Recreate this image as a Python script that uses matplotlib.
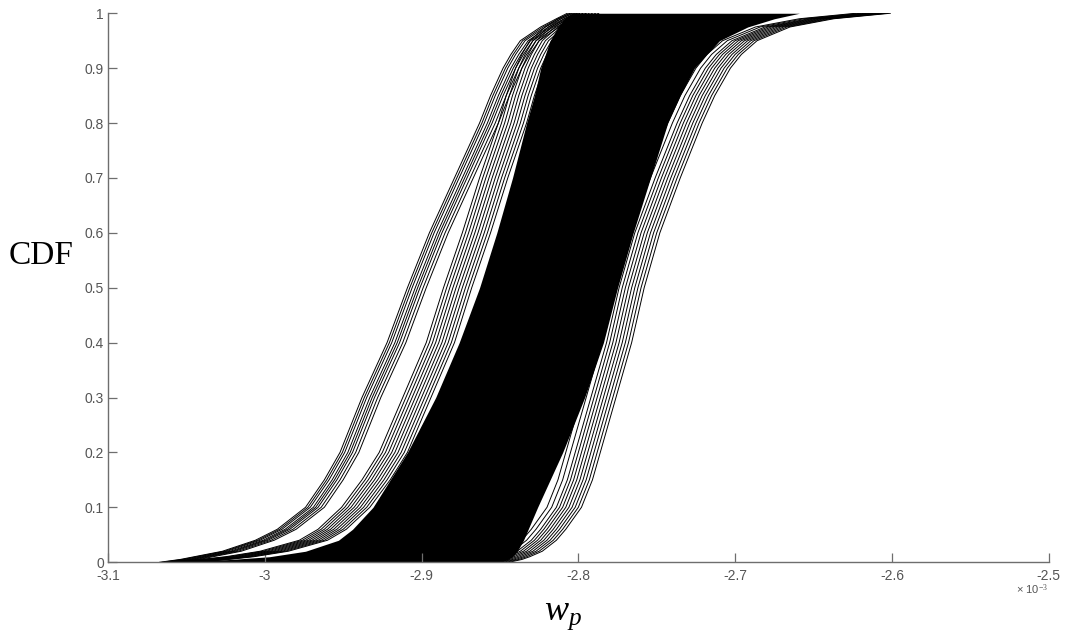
import numpy as np
import matplotlib
matplotlib.use("Agg")
import matplotlib.pyplot as plt

cdf_levels = [0, 0.005, 0.01, 0.02, 0.04, 0.06, 0.1, 0.15, 0.2, 0.3, 0.4, 0.5,
              0.6, 0.7, 0.8, 0.85, 0.9, 0.925, 0.95, 0.975, 0.99, 1.0]

# leftmost curve of the left bundle and the offsets of its members
left_curve = [-3.067, -3.054, -3.045, -3.027, -3.006, -2.992, -2.974, -2.962, -2.952, -2.938, -2.922,
              -2.909, -2.895, -2.879, -2.863, -2.856, -2.848, -2.843, -2.837, -2.824, -2.814, -2.807]
left_shifts = [0.0, 0.0015, 0.003, 0.005, 0.0065, 0.008, 0.010, 0.012]

# leftmost curve of the bundle hugging the dense band
mid_curve = [-3.060, -3.041, -3.025, -3.003, -2.978, -2.966, -2.951, -2.938, -2.927, -2.912, -2.897,
             -2.886, -2.874, -2.863, -2.851, -2.846, -2.840, -2.836, -2.831, -2.821, -2.813, -2.805]
mid_shifts = [0.0, 0.002, 0.004, 0.006, 0.008, 0.010, 0.012, 0.014, 0.016, 0.018]

# edges of the solid black region (hundreds of overlapping curves)
band_left = [-3.057, -3.022, -2.997, -2.974, -2.953, -2.944, -2.931, -2.920, -2.909, -2.891, -2.876,
             -2.863, -2.852, -2.842, -2.833, -2.828, -2.824, -2.821, -2.818, -2.813, -2.809, -2.804]
band_right = [-2.850, -2.845, -2.842, -2.839, -2.835, -2.832, -2.826, -2.818, -2.810, -2.796, -2.784,
              -2.775, -2.765, -2.754, -2.743, -2.735, -2.726, -2.718, -2.710, -2.692, -2.675, -2.659]

# rightmost curve and offsets of the right bundle
right_curve = [-2.844, -2.836, -2.831, -2.823, -2.814, -2.808, -2.798, -2.791, -2.786, -2.776, -2.766,
               -2.758, -2.748, -2.735, -2.721, -2.713, -2.703, -2.696, -2.686, -2.665, -2.637, -2.601]
right_shifts = [0.0, -0.002, -0.004, -0.006, -0.008, -0.010, -0.012, -0.014, -0.016, -0.019, -0.022]

x_ticks = [-3.1, -3.0, -2.9, -2.8, -2.7, -2.6, -2.5]
x_tick_labels = ["-3.1", "-3", "-2.9", "-2.8", "-2.7", "-2.6", "-2.5"]
y_ticks = [0, 0.1, 0.2, 0.3, 0.4, 0.5, 0.6, 0.7, 0.8, 0.9, 1.0]
y_tick_labels = ["0", "0.1", "0.2", "0.3", "0.4", "0.5", "0.6", "0.7", "0.8", "0.9", "1"]

plt.rcParams["mathtext.fontset"] = "custom"
plt.rcParams["mathtext.rm"] = "Liberation Serif"
plt.rcParams["mathtext.it"] = "Liberation Serif:italic"

fig = plt.figure(figsize=(10.69, 6.31), dpi=100)
ax = fig.add_axes([0.101, 0.109, 0.880, 0.870])

levels = np.array(cdf_levels)

# dense band
ax.fill_betweenx(levels, band_left, band_right, color="black", linewidth=0)

# individual curves
for base, shifts in [(left_curve, left_shifts), (mid_curve, mid_shifts), (right_curve, right_shifts)]:
    for s in shifts:
        ax.plot(np.array(base) + s, levels, color="black", linewidth=0.7)

ax.set_xlim(-3.1, -2.5)
ax.set_ylim(0, 1)
ax.set_xticks(x_ticks)
ax.set_xticklabels(x_tick_labels)
ax.set_yticks(y_ticks)
ax.set_yticklabels(y_tick_labels)

axis_gray = "#6e6e6e"
for side in ["top", "right"]:
    ax.spines[side].set_visible(False)
for side in ["left", "bottom"]:
    ax.spines[side].set_color(axis_gray)
    ax.spines[side].set_linewidth(1.0)
ax.tick_params(direction="in", length=6.5, width=0.9, color=axis_gray,
               labelcolor="#555555", labelsize=10, pad=3)
ax.tick_params(axis="x", pad=5)
for lab in ax.get_xticklabels() + ax.get_yticklabels():
    lab.set_fontfamily("Liberation Sans")

fig.text(1048 / 1069, 1 - 590 / 631, r"× 10$^{-3}$", ha="right", va="center",
         fontsize=8, color="#555555", family="Liberation Sans")
fig.text(41 / 1069, 1 - 256 / 631, "CDF", ha="center", va="center",
         fontsize=24, family="Liberation Serif")
fig.text(563 / 1069, 1 - 615 / 631, r"$w_p$", ha="center", va="center", fontsize=26)

fig.savefig("out.png", dpi=100)
